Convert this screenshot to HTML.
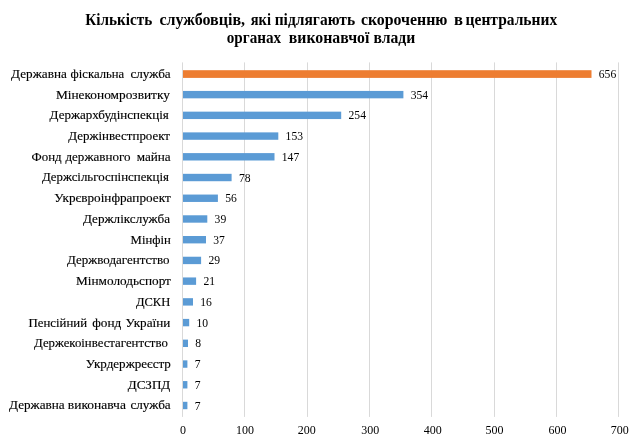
<!DOCTYPE html>
<html><head><meta charset="utf-8"><title>chart</title>
<style>
html,body{margin:0;padding:0;background:#fff;}
svg{display:block;font-family:"Liberation Serif",serif;}
.t{font-weight:bold;font-size:15.4px;fill:#000;}
.c{font-size:13.3px;fill:#000;stroke:#000;stroke-width:0.15px;}
.v{font-size:12px;fill:#000;text-anchor:start;}
.a{font-size:12px;fill:#000;text-anchor:middle;}
</style></head><body>
<svg width="643" height="446" viewBox="0 0 643 446">
<rect width="643" height="446" fill="#fff"/>

<text class="t" transform="translate(0,24.8) scale(1,1.03)"><tspan x="85.3" textLength="67.0" lengthAdjust="spacingAndGlyphs">Кількість</tspan> <tspan x="159.4" textLength="85.7" lengthAdjust="spacingAndGlyphs">службовців,</tspan> <tspan x="250.8" textLength="20.2" lengthAdjust="spacingAndGlyphs">які</tspan> <tspan x="274.7" textLength="80.4" lengthAdjust="spacingAndGlyphs">підлягають</tspan> <tspan x="360.9" textLength="86.6" lengthAdjust="spacingAndGlyphs">скороченню</tspan> <tspan x="454.0" textLength="9.0" lengthAdjust="spacingAndGlyphs">в</tspan> <tspan x="465.6" textLength="91.6" lengthAdjust="spacingAndGlyphs">центральних</tspan></text>
<text class="t" transform="translate(0,42.5) scale(1,1.07)"><tspan x="226.8" textLength="54.4" lengthAdjust="spacingAndGlyphs">органах</tspan> <tspan x="288.8" textLength="80.6" lengthAdjust="spacingAndGlyphs">виконавчої</tspan> <tspan x="373.5" textLength="41.8" lengthAdjust="spacingAndGlyphs">влади</tspan></text>
<rect x="182" y="62.4" width="1" height="354.5" fill="#d9d9d9"/>
<text class="a" transform="translate(183.0,433.5) scale(1,1.05)">0</text>
<rect x="244" y="62.4" width="1" height="354.5" fill="#d9d9d9"/>
<text class="a" transform="translate(245.0,433.5) scale(1,1.05)">100</text>
<rect x="307" y="62.4" width="1" height="354.5" fill="#d9d9d9"/>
<text class="a" transform="translate(306.8,433.5) scale(1,1.05)">200</text>
<rect x="369" y="62.4" width="1" height="354.5" fill="#d9d9d9"/>
<text class="a" transform="translate(370.2,433.5) scale(1,1.05)">300</text>
<rect x="431" y="62.4" width="1" height="354.5" fill="#d9d9d9"/>
<text class="a" transform="translate(432.7,433.5) scale(1,1.05)">400</text>
<rect x="494" y="62.4" width="1" height="354.5" fill="#d9d9d9"/>
<text class="a" transform="translate(494.5,433.5) scale(1,1.05)">500</text>
<rect x="556" y="62.4" width="1" height="354.5" fill="#d9d9d9"/>
<text class="a" transform="translate(557.4,433.5) scale(1,1.05)">600</text>
<rect x="618" y="62.4" width="1" height="354.5" fill="#d9d9d9"/>
<text class="a" transform="translate(619.7,433.5) scale(1,1.05)">700</text>
<rect x="183.0" y="70.20" width="408.5" height="7.7" fill="#ED7D31"/>
<text class="c" transform="translate(0,77.8) scale(1,1)"><tspan x="11.1" textLength="55.7" lengthAdjust="spacingAndGlyphs">Державна</tspan> <tspan x="70.6" textLength="53.6" lengthAdjust="spacingAndGlyphs">фіскальна</tspan> <tspan x="130.4" textLength="40.3" lengthAdjust="spacingAndGlyphs">служба</tspan></text>
<text class="v" transform="translate(598.8,77.9) scale(0.97,1.07)">656</text>
<rect x="183.0" y="90.93" width="220.4" height="7.4" fill="#5B9BD5"/>
<text class="c" transform="translate(0,98.5) scale(1,1)"><tspan x="55.9" textLength="114.0" lengthAdjust="spacingAndGlyphs">Мінекономрозвитку</tspan></text>
<text class="v" transform="translate(410.7,98.6) scale(0.97,1.07)">354</text>
<rect x="183.0" y="111.65" width="158.2" height="7.4" fill="#5B9BD5"/>
<text class="c" transform="translate(0,119.3) scale(1,1)"><tspan x="49.6" textLength="119.2" lengthAdjust="spacingAndGlyphs">Держархбудінспекція</tspan></text>
<text class="v" transform="translate(348.5,119.4) scale(0.97,1.07)">254</text>
<rect x="183.0" y="132.38" width="95.3" height="7.4" fill="#5B9BD5"/>
<text class="c" transform="translate(0,140.0) scale(1,1)"><tspan x="68.3" textLength="101.7" lengthAdjust="spacingAndGlyphs">Держінвестпроект</tspan></text>
<text class="v" transform="translate(285.6,140.1) scale(0.97,1.07)">153</text>
<rect x="183.0" y="153.10" width="91.5" height="7.4" fill="#5B9BD5"/>
<text class="c" transform="translate(0,160.7) scale(1,1)"><tspan x="31.5" textLength="30.1" lengthAdjust="spacingAndGlyphs">Фонд</tspan> <tspan x="65.4" textLength="65.1" lengthAdjust="spacingAndGlyphs">державного</tspan> <tspan x="136.7" textLength="34.0" lengthAdjust="spacingAndGlyphs">майна</tspan></text>
<text class="v" transform="translate(281.8,160.8) scale(0.97,1.07)">147</text>
<rect x="183.0" y="173.82" width="48.6" height="7.4" fill="#5B9BD5"/>
<text class="c" transform="translate(0,181.4) scale(1,1)"><tspan x="41.9" textLength="127.1" lengthAdjust="spacingAndGlyphs">Держсільгоспінспекція</tspan></text>
<text class="v" transform="translate(238.9,181.5) scale(0.97,1.07)">78</text>
<rect x="183.0" y="194.55" width="34.9" height="7.4" fill="#5B9BD5"/>
<text class="c" transform="translate(0,202.2) scale(1,1)"><tspan x="54.3" textLength="116.4" lengthAdjust="spacingAndGlyphs">Укрєвроінфрапроект</tspan></text>
<text class="v" transform="translate(225.2,202.3) scale(0.97,1.07)">56</text>
<rect x="183.0" y="215.28" width="24.3" height="7.4" fill="#5B9BD5"/>
<text class="c" transform="translate(0,222.9) scale(1,1)"><tspan x="83.0" textLength="87.0" lengthAdjust="spacingAndGlyphs">Держлікслужба</tspan></text>
<text class="v" transform="translate(214.6,223.0) scale(0.97,1.07)">39</text>
<rect x="183.0" y="236.00" width="23.0" height="7.4" fill="#5B9BD5"/>
<text class="c" transform="translate(0,243.6) scale(1,1)"><tspan x="130.6" textLength="40.2" lengthAdjust="spacingAndGlyphs">Мінфін</tspan></text>
<text class="v" transform="translate(213.3,243.7) scale(0.97,1.07)">37</text>
<rect x="183.0" y="256.73" width="18.1" height="7.4" fill="#5B9BD5"/>
<text class="c" transform="translate(0,264.3) scale(1,1)"><tspan x="67.1" textLength="102.4" lengthAdjust="spacingAndGlyphs">Держводагентство</tspan></text>
<text class="v" transform="translate(208.4,264.4) scale(0.97,1.07)">29</text>
<rect x="183.0" y="277.45" width="13.1" height="7.4" fill="#5B9BD5"/>
<text class="c" transform="translate(0,285.0) scale(1,1)"><tspan x="76.0" textLength="94.9" lengthAdjust="spacingAndGlyphs">Мінмолодьспорт</tspan></text>
<text class="v" transform="translate(203.4,285.1) scale(0.97,1.07)">21</text>
<rect x="183.0" y="298.18" width="10.0" height="7.4" fill="#5B9BD5"/>
<text class="c" transform="translate(0,305.8) scale(1,1)"><tspan x="135.9" textLength="34.3" lengthAdjust="spacingAndGlyphs">ДСКН</tspan></text>
<text class="v" transform="translate(200.3,305.9) scale(0.97,1.07)">16</text>
<rect x="183.0" y="318.90" width="6.2" height="7.4" fill="#5B9BD5"/>
<text class="c" transform="translate(0,326.5) scale(1,1)"><tspan x="28.5" textLength="58.6" lengthAdjust="spacingAndGlyphs">Пенсійний</tspan> <tspan x="92.3" textLength="29.0" lengthAdjust="spacingAndGlyphs">фонд</tspan> <tspan x="125.5" textLength="44.8" lengthAdjust="spacingAndGlyphs">України</tspan></text>
<text class="v" transform="translate(196.5,326.6) scale(0.97,1.07)">10</text>
<rect x="183.0" y="339.62" width="5.0" height="7.4" fill="#5B9BD5"/>
<text class="c" transform="translate(0,347.2) scale(1,1)"><tspan x="34.0" textLength="133.8" lengthAdjust="spacingAndGlyphs">Держекоінвестагентство</tspan></text>
<text class="v" transform="translate(195.3,347.3) scale(0.97,1.07)">8</text>
<rect x="183.0" y="360.35" width="4.4" height="7.4" fill="#5B9BD5"/>
<text class="c" transform="translate(0,367.9) scale(1,1)"><tspan x="85.8" textLength="85.1" lengthAdjust="spacingAndGlyphs">Укрдержреєстр</tspan></text>
<text class="v" transform="translate(194.7,368.1) scale(0.97,1.07)">7</text>
<rect x="183.0" y="381.07" width="4.4" height="7.4" fill="#5B9BD5"/>
<text class="c" transform="translate(0,388.7) scale(1,1)"><tspan x="127.8" textLength="42.4" lengthAdjust="spacingAndGlyphs">ДСЗПД</tspan></text>
<text class="v" transform="translate(194.7,388.8) scale(0.97,1.07)">7</text>
<rect x="183.0" y="401.80" width="4.4" height="7.4" fill="#5B9BD5"/>
<text class="c" transform="translate(0,409.4) scale(1,1)"><tspan x="9.0" textLength="55.7" lengthAdjust="spacingAndGlyphs">Державна</tspan> <tspan x="67.8" textLength="58.1" lengthAdjust="spacingAndGlyphs">виконавча</tspan> <tspan x="130.4" textLength="40.3" lengthAdjust="spacingAndGlyphs">служба</tspan></text>
<text class="v" transform="translate(194.7,409.5) scale(0.97,1.07)">7</text>
</svg></body></html>
